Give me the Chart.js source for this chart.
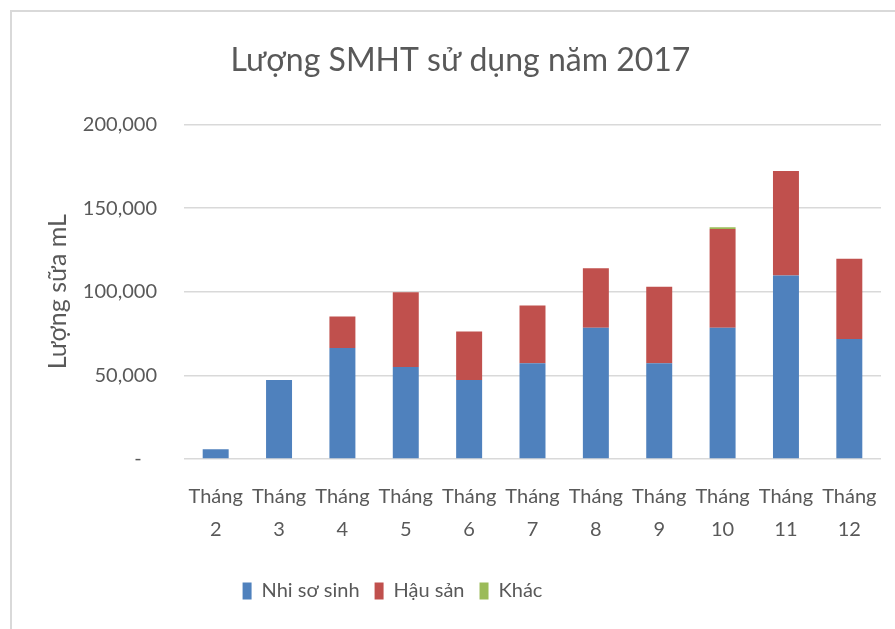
<!DOCTYPE html>
<html>
<head>
<meta charset="utf-8">
<script src="https://cdn.jsdelivr.net/npm/chart.js@4/dist/chart.umd.min.js"></script>
<style>
  html, body { margin: 0; padding: 0; background: #fff; }
  #wrap { position: relative; width: 895px; height: 629px; }
  #frame { position: absolute; left: 10px; top: 10px; width: 885px; height: 619px;
           border-top: 2px solid #d9d9d9; border-left: 2px solid #d9d9d9; box-sizing: border-box; }
</style>
</head>
<body>
<div id="wrap">
  <canvas id="myChart" width="895" height="629"></canvas>
  <div id="frame"></div>
</div>
<script>
// months on the x axis (two-line labels)
const months = ['2', '3', '4', '5', '6', '7', '8', '9', '10', '11', '12'];
const labels = months.map(m => ['Tháng', m]);

// series values (mL)
const nhiSoSinh = [5800, 47200, 66300, 55000, 47200, 57300, 78400, 57300, 78400, 109700, 71700];
const hauSan = [0, 0, 18900, 44600, 29000, 34500, 35600, 45600, 59100, 62400, 48000];
const khac = [0, 0, 0, 0, 0, 0, 0, 0, 1000, 0, 0];

const yTicks = [0, 50000, 100000, 150000, 200000];

const FONT = 'Lato, "Open Sans", sans-serif';
const GREY = '#595959';

const data = {
    labels: labels,
    datasets: [{
        label: 'Nhi sơ sinh',
        backgroundColor: '#4f81bd',
        data: nhiSoSinh,
    }, {
        label: 'Hậu sản',
        backgroundColor: '#c0504d',
        data: hauSan,
    }, {
        label: 'Khác',
        backgroundColor: '#9bbb59',
        data: khac,
    }]
};

// the legend sits left of centre in the original
const legendShift = {
    id: 'legendShift',
    beforeDraw(chart) {
        const lg = chart.legend;
        if (!lg._shifted) {
            lg.left -= 68;
            lg.right -= 68;
            lg._shifted = true;
        }
    }
};

const config = {
    type: 'bar',
    data,
    plugins: [legendShift],
    options: {
        responsive: false,
        animation: false,
        layout: {
            padding: { left: 40, right: 14, top: 0, bottom: 18 }
        },
        datasets: {
            bar: { categoryPercentage: 1, barPercentage: 0.41 }
        },
        plugins: {
            title: {
                display: true,
                text: 'Lượng SMHT sử dụng năm 2017',
                color: GREY,
                font: { family: FONT, size: 32, weight: 'normal' },
                padding: { top: 41, bottom: 45 }
            },
            legend: {
                position: 'bottom',
                labels: {
                    color: GREY,
                    font: { family: FONT, size: 20 },
                    boxWidth: 9,
                    boxHeight: 17,
                    padding: 15
                }
            },
            tooltip: { enabled: false }
        },
        scales: {
            x: {
                stacked: true,
                afterFit: s => { s.height = 107; },
                grid: { display: false },
                border: { display: false },
                ticks: {
                    color: GREY,
                    font: { family: FONT, size: 20, lineHeight: 1.65 },
                    padding: 13,
                    maxRotation: 0,
                    autoSkip: false
                }
            },
            y: {
                stacked: true,
                min: 0,
                max: 200000,
                afterFit: s => { s.width = 144; },
                afterBuildTicks: s => { s.ticks = yTicks.map(v => ({ value: v })); },
                grid: { color: '#d9d9d9', lineWidth: 1.5, drawTicks: false },
                border: { display: false },
                title: {
                    display: true,
                    text: 'Lượng sữa mL',
                    color: GREY,
                    font: { family: FONT, size: 25 },
                    padding: { top: 3, bottom: 0 }
                },
                ticks: {
                    color: GREY,
                    font: { family: FONT, size: 20 },
                    padding: 27,
                    callback: v => v === 0 ? '-   ' : v.toLocaleString('en-US')
                }
            }
        }
    }
};

var myChart = new Chart(
    document.getElementById('myChart'),
    config
);
</script>
</body>
</html>
